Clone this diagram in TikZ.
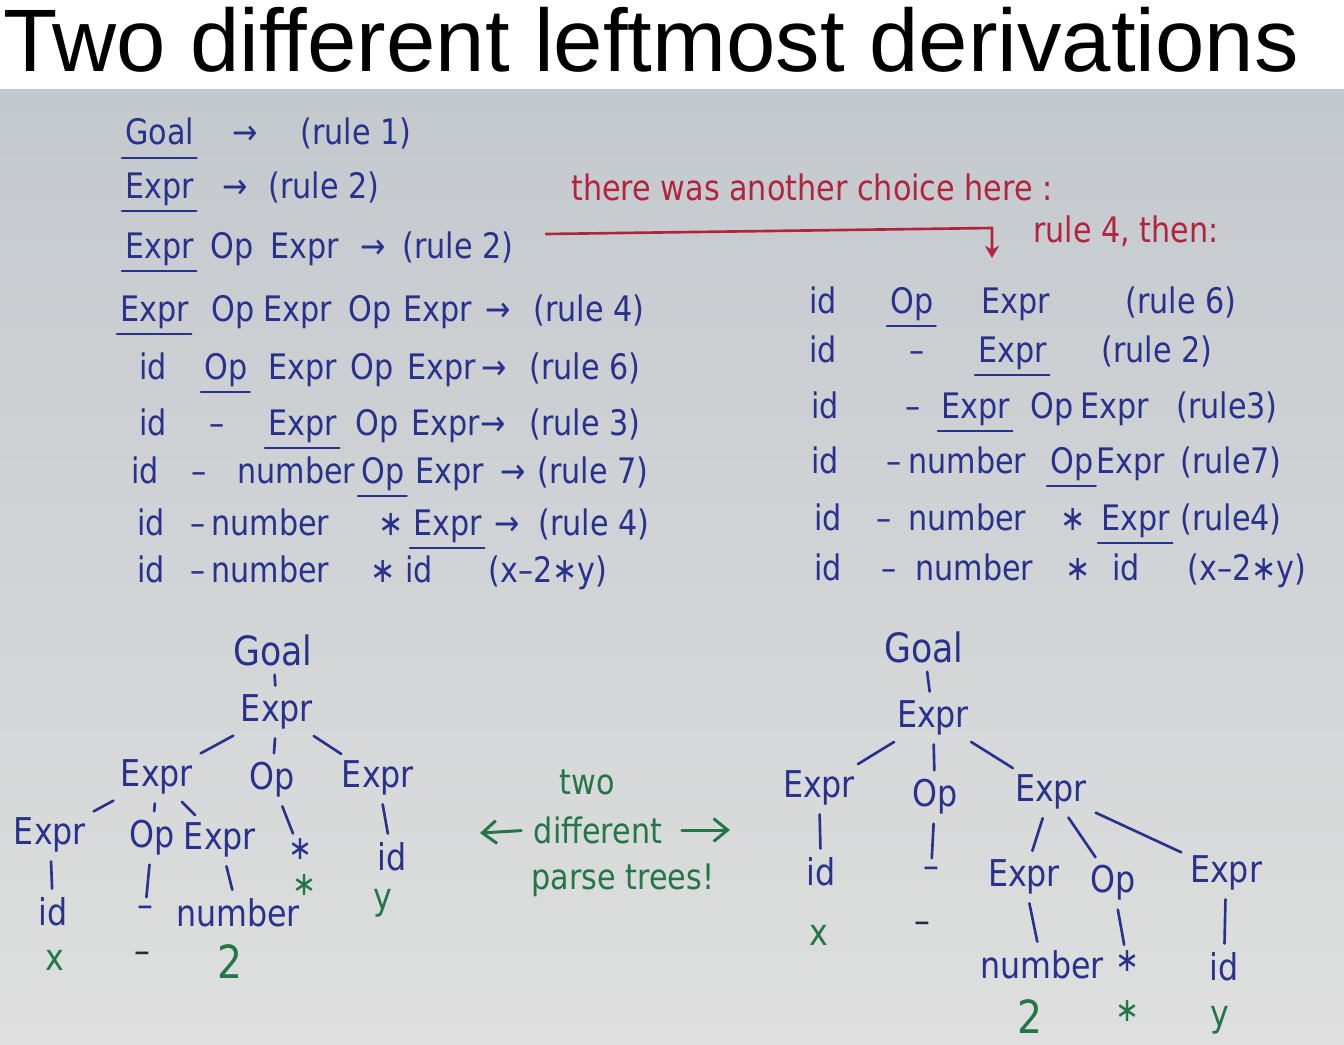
\documentclass[tikz,border=0pt]{standalone}
\usepackage{fontspec}
\setmainfont{DejaVu Sans}
\newfontfamily\titlefont{Liberation Sans}
\newfontfamily\hwf[FakeStretch=0.86]{DejaVu Sans}
\usetikzlibrary{calc,arrows.meta}
\definecolor{boardtop}{RGB}{196,201,206}
\definecolor{boardbot}{RGB}{222,223,222}
\definecolor{inkblue}{RGB}{40,50,140}
\definecolor{inkred}{RGB}{176,36,60}
\definecolor{inkgreen}{RGB}{36,118,70}
\definecolor{inkdark}{RGB}{38,40,66}
\tikzset{
  hw/.style={inner sep=0pt, anchor=base west, text=inkblue, font=\hwf\fontsize{20}{22}\selectfont},
  redtxt/.style={inner sep=0pt, anchor=base west, text=inkred, font=\hwf\fontsize{20}{22}\selectfont},
  grtxt/.style={inner sep=1pt, anchor=center, text=inkgreen, font=\hwf\fontsize{20}{22}\selectfont},
  tn/.style={inner sep=2pt, anchor=center, text=inkblue, font=\hwf\fontsize{21}{23}\selectfont},
  tgoal/.style={tn, font=\hwf\fontsize{23}{25}\selectfont},
  tgreen/.style={inner sep=2pt, anchor=center, text=inkgreen, font=\hwf\fontsize{21}{23}\selectfont},
  tbig/.style={tgreen, font=\hwf\fontsize{26}{28}\selectfont},
  tdark/.style={tn, text=inkdark},
  tstar/.style={inner sep=1pt, font=\hwf\fontsize{19}{20}\selectfont, text height=0.6em, text depth=0pt},
  te/.style={draw=inkblue, line width=1.5pt, line cap=round, shorten <=3pt, shorten >=3pt},
  testar/.style={te, shorten >=8pt},
  ul/.style={draw=inkblue, line width=1.5pt, line cap=round},
  redline/.style={draw=inkred, line width=1.5pt, line cap=round, line join=round},
  grarrow/.style={draw=inkgreen, line width=1.7pt, line cap=round, -{Straight Barb[length=8pt,width=13pt]}}
}
\newcommand{\ulw}[1]{\draw[ul] ($(#1.base west)+(-3,13)$) -- ($(#1.base east)+(2,13)$);}
\begin{document}
\begin{tikzpicture}[x=0.02cm, y=-0.02cm]
\useasboundingbox (0,0) rectangle (1344,1044);
\fill[white] (0,0) rectangle (1344,90);
\fill[top color=boardtop, bottom color=boardbot] (0,90) rectangle (1344,1044);

\node[anchor=base west, inner sep=0pt, font=\titlefont\fontsize{50.5}{56}\selectfont] (title) at (3,72) {Two different leftmost derivations};

% ---------------- left derivation ----------------
\node[hw] (a1) at (125,145) {Goal}; \ulw{a1}
\node[hw] (a2) at (232,145) {→};
\node[hw] (a3) at (300,145) {(rule 1)};

\node[hw] (b1) at (125,198) {Expr}; \ulw{b1}
\node[hw] (b2) at (222,198) {→};
\node[hw] (b3) at (268,198) {(rule 2)};

\node[hw] (c1) at (125,258) {Expr}; \ulw{c1}
\node[hw] (c2) at (210,258) {Op};
\node[hw] (c3) at (270,258) {Expr};
\node[hw] (c4) at (360,258) {→};
\node[hw] (c5) at (402,258) {(rule 2)};

\node[hw] (d1) at (120,321) {Expr}; \ulw{d1}
\node[hw] (d2) at (211,321) {Op};
\node[hw] (d3) at (263,321) {Expr};
\node[hw] (d4) at (348,321) {Op};
\node[hw] (d5) at (403,321) {Expr};
\node[hw] (d6) at (485,321) {→};
\node[hw] (d7) at (533,321) {(rule 4)};

\node[hw] (e1) at (139,379) {id};
\node[hw] (e2) at (204,379) {Op}; \ulw{e2}
\node[hw] (e3) at (268,379) {Expr};
\node[hw] (e4) at (350,379) {Op};
\node[hw] (e5) at (407,379) {Expr};
\node[hw] (e6) at (481,379) {→};
\node[hw] (e7) at (529,379) {(rule 6)};

\node[hw] (f1) at (139,435) {id};
\node[hw] (f2) at (209,435) {–};
\node[hw] (f3) at (268,435) {Expr}; \ulw{f3}
\node[hw] (f4) at (355,435) {Op};
\node[hw] (f5) at (411,435) {Expr};
\node[hw] (f6) at (480,435) {→};
\node[hw] (f7) at (529,435) {(rule 3)};

\node[hw] (g1) at (131,483) {id};
\node[hw] (g2) at (191,483) {–};
\node[hw] (g3) at (237,483) {number};
\node[hw] (g4) at (361,483) {Op}; \ulw{g4}
\node[hw] (g5) at (415,483) {Expr};
\node[hw] (g6) at (500,483) {→};
\node[hw] (g7) at (537,483) {(rule 7)};

\node[hw] (h1) at (137,535) {id};
\node[hw] (h2) at (190,535) {–};
\node[hw] (h3) at (211,535) {number};
\node[hw] (h4) at (378,535) {∗};
\node[hw] (h5) at (413,535) {Expr}; \ulw{h5}
\node[hw] (h6) at (494,535) {→};
\node[hw] (h7) at (538,535) {(rule 4)};

\node[hw] (i1) at (137,582) {id};
\node[hw] (i2) at (190,582) {–};
\node[hw] (i3) at (211,582) {number};
\node[hw] (i4) at (370,582) {∗};
\node[hw] (i5) at (405,582) {id};
\node[hw] (i6) at (488,582) {(x–2∗y)};

% ---------------- red remark ----------------
\node[redtxt] (rem) at (571,200) {there was another choice here :};
\node[redtxt] (rem2) at (1033,242) {rule 4, then:};
\coordinate (ra) at (546,234);
\coordinate (rb) at (992,228);
\coordinate (rc) at (992,258);
\draw[redline, -{Stealth[length=7pt,width=8pt]}] (ra) -- (rb) -- (rc);

% ---------------- right derivation ----------------
\node[hw] (p1) at (809,313) {id};
\node[hw] (p2) at (890,313) {Op}; \ulw{p2}
\node[hw] (p3) at (981,313) {Expr};
\node[hw] (p4) at (1125,313) {(rule 6)};

\node[hw] (q1) at (809,362) {id};
\node[hw] (q2) at (909,362) {–};
\node[hw] (q3) at (978,362) {Expr}; \ulw{q3}
\node[hw] (q4) at (1101,362) {(rule 2)};

\node[hw] (s1) at (811,418) {id};
\node[hw] (s2) at (905,418) {–};
\node[hw] (s3) at (941,418) {Expr}; \ulw{s3}
\node[hw] (s4) at (1030,418) {Op};
\node[hw] (s5) at (1080,418) {Expr};
\node[hw] (s6) at (1176,418) {(rule3)};

\node[hw] (t1) at (811,473) {id};
\node[hw] (t2) at (886,473) {–};
\node[hw] (t3) at (908,473) {number};
\node[hw] (t4) at (1050,473) {Op}; \ulw{t4}
\node[hw] (t5) at (1096,473) {Expr};
\node[hw] (t6) at (1180,473) {(rule7)};

\node[hw] (u1) at (814,530) {id};
\node[hw] (u2) at (876,530) {–};
\node[hw] (u3) at (908,530) {number};
\node[hw] (u4) at (1060,530) {∗};
\node[hw] (u5) at (1101,530) {Expr}; \ulw{u5}
\node[hw] (u6) at (1180,530) {(rule4)};

\node[hw] (v1) at (814,580) {id};
\node[hw] (v2) at (881,580) {–};
\node[hw] (v3) at (915,580) {number};
\node[hw] (v4) at (1065,580) {∗};
\node[hw] (v5) at (1112,580) {id};
\node[hw] (v6) at (1187,580) {(x–2∗y)};

% ---------------- left parse tree ----------------
\node[tgoal] (lGoal) at (273,650) {Goal};
\node[tn] (lE1) at (277,712) {Expr};
\node[tn] (lE2) at (157,777) {Expr};
\node[tn] (lO2) at (272,780) {Op};
\node[tn] (lE2r) at (378,778) {Expr};
\node[tn] (lE3a) at (50,835) {Expr};
\node[tn] (lO3) at (152,838) {Op};
\node[tn] (lE3b) at (220,840) {Expr};
\node[tn, tstar] (lstar) at (301,854) {∗};
\node[tn] (lid2) at (392,857) {id};
\node[tn] (lid3) at (53,912) {id};
\node[tn] (ldash) at (145,912) {–};
\node[tn] (lnum) at (238,913) {number};
\node[tgreen, tstar] (lgstar) at (305,890) {∗};
\node[tgreen] (lgy) at (383,903) {y};
\node[tgreen] (lgx) at (55,960) {x};
\node[tdark] (lgdash) at (142,958) {–};
\node[tbig] (lg2) at (230,962) {2};

\draw[te] (lGoal) -- (lE1);
\draw[te] (lE1) -- (lE2);
\draw[te] (lE1) -- (lO2);
\draw[te] (lE1) -- (lE2r);
\draw[te] (lE2) -- (lE3a);
\draw[te] (lE2) -- (lO3);
\draw[te] (lE2) -- (lE3b);
\draw[testar] (lO2) -- (lstar);
\draw[te] (lE2r) -- (lid2);
\draw[te] (lE3a) -- (lid3);
\draw[te] (lO3) -- (ldash);
\draw[te] (lE3b) -- (lnum);

% ---------------- middle remark ----------------
\node[grtxt] (two) at (587,782) {two};
\node[grtxt] (diff) at (598,830) {different};
\node[grtxt] (parse) at (623,880) {parse trees!};
\coordinate (al) at (480,833);
\coordinate (ar) at (730,830);
\draw[grarrow, shorten <=6pt] (diff.west) -- (al);
\draw[grarrow, shorten <=10pt] (diff.east) -- (ar);

% ---------------- right parse tree ----------------
\node[tgoal] (rGoal) at (924,647) {Goal};
\node[tn] (rE1) at (933,718) {Expr};
\node[tn] (rE2a) at (819,788) {Expr};
\node[tn] (rO2) at (935,797) {Op};
\node[tn] (rE2b) at (1051,792) {Expr};
\node[tn] (rid1) at (821,872) {id};
\node[tn] (rdash1) at (931,873) {–};
\node[tn] (rE3a) at (1024,877) {Expr};
\node[tn] (rO3) at (1113,883) {Op};
\node[tn] (rE3b) at (1226,873) {Expr};
\node[tgreen] (rgx) at (819,935) {x};
\node[tdark] (rgdash) at (922,928) {–};
\node[tn] (rnum) at (1042,965) {number};
\node[tn, tstar] (rstar) at (1128,966) {∗};
\node[tn] (rid2) at (1224,967) {id};
\node[tbig] (rg2) at (1030,1017) {2};
\node[tgreen, tstar] (rgstar) at (1128,1016) {∗};
\node[tgreen] (rgy) at (1220,1020) {y};

\draw[te] (rGoal) -- (rE1);
\draw[te] (rE1) -- (rE2a);
\draw[te] (rE1) -- (rO2);
\draw[te] (rE1) -- (rE2b);
\draw[te] (rE2a) -- (rid1);
\draw[te] (rO2) -- (rdash1);
\draw[te] (rE2b) -- (rE3a);
\draw[te] (rE2b) -- (rO3);
\draw[te] (rE2b) -- (rE3b);
\draw[te] (rE3a) -- (rnum);
\draw[testar] (rO3) -- (rstar);
\draw[te] (rE3b) -- (rid2);
\end{tikzpicture}
\end{document}
